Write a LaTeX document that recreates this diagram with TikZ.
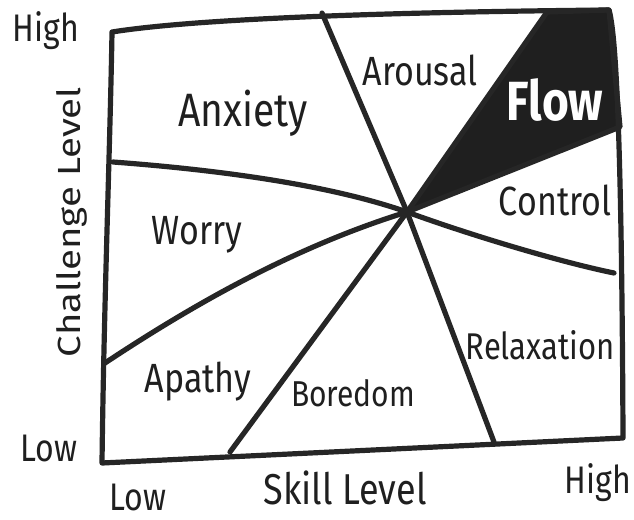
\documentclass[tikz,border=0pt]{standalone}
\usepackage{fontspec}
\setmainfont{Fira Sans}
\begin{document}
\begin{tikzpicture}[x=1pt,y=-1pt,
  ink/.style={line width=5.2pt, line cap=round, line join=round, draw=black!85},
  zone/.style={font=\fontsize{34}{34}\selectfont, text=black!88, inner sep=0pt, yscale=1.2},
  axis/.style={font=\fontsize{32}{32}\selectfont, text=black!88, inner sep=0pt, yscale=1.2}]
\useasboundingbox (0,0) rectangle (634,519);

% corners of the chart frame
\coordinate (tl) at (112,32);
\coordinate (tr) at (609,10);
\coordinate (br) at (623,438);
\coordinate (bl) at (102,463);
% the point where all region borders meet
\coordinate (c) at (407,212);
% ends of the region borders on the frame
\coordinate (fa) at (547,12);
\coordinate (fb) at (620,127);
\coordinate (ar) at (322,13);
\coordinate (ax) at (113,162);
\coordinate (wo) at (105,363);
\coordinate (ap) at (230,452);
\coordinate (bo) at (494,442);
\coordinate (re) at (614,273);

% flow wedge
\fill[black!88, line join=round] (c) -- (fa) -- (tr) -- (fb) -- cycle;
\draw[ink] (c) -- (fa) -- (tr) -- (fb) -- cycle;

% frame
\draw[ink] (tl) .. controls (200,18) and (400,12) .. (tr)
  .. controls (618,40) and (622,200) .. (br)
  -- (bl) .. controls (104,300) and (110,150) .. (tl);

% region borders
\draw[ink] (c) -- (ar);
\draw[ink] (ax) .. controls (220,170) and (330,185) .. (c);
\draw[ink] (wo) .. controls (200,300) and (300,245) .. (c);
\draw[ink] (c) -- (ap);
\draw[ink] (c) -- (bo);
\draw[ink] (c) .. controls (470,235) and (560,262) .. (re);

% region names
\node[zone, font=\fontsize{39}{39}\selectfont] (nanx) at (243,113) {Anxiety};
\node[zone] (naro) at (420,70) {Arousal};
\node[zone, text=white, font=\fontsize{46}{46}\selectfont\bfseries] (nflo) at (555,100) {Flow};
\node[zone] (ncon) at (555,200) {Control};
\node[zone] (nwor) at (197,235) {Worry};
\node[zone, font=\fontsize{31}{31}\selectfont] (nrel) at (540,345) {Relaxation};
\node[zone] (napa) at (198,382) {Apathy};
\node[zone, font=\fontsize{30}{30}\selectfont] (nbor) at (353,393) {Boredom};

% axis labels
\node[axis] (chi) at (46,31) {High};
\node[axis] (clo) at (49,448) {Low};
\node[axis, rotate=90] (cax) at (72,222) {Challenge Level};
\node[axis] (slo) at (138,497) {Low};
\node[axis, font=\fontsize{36}{36}\selectfont] (sax) at (345,488) {Skill Level};
\node[axis] (shi) at (598,483) {High};
\end{tikzpicture}
\end{document}
